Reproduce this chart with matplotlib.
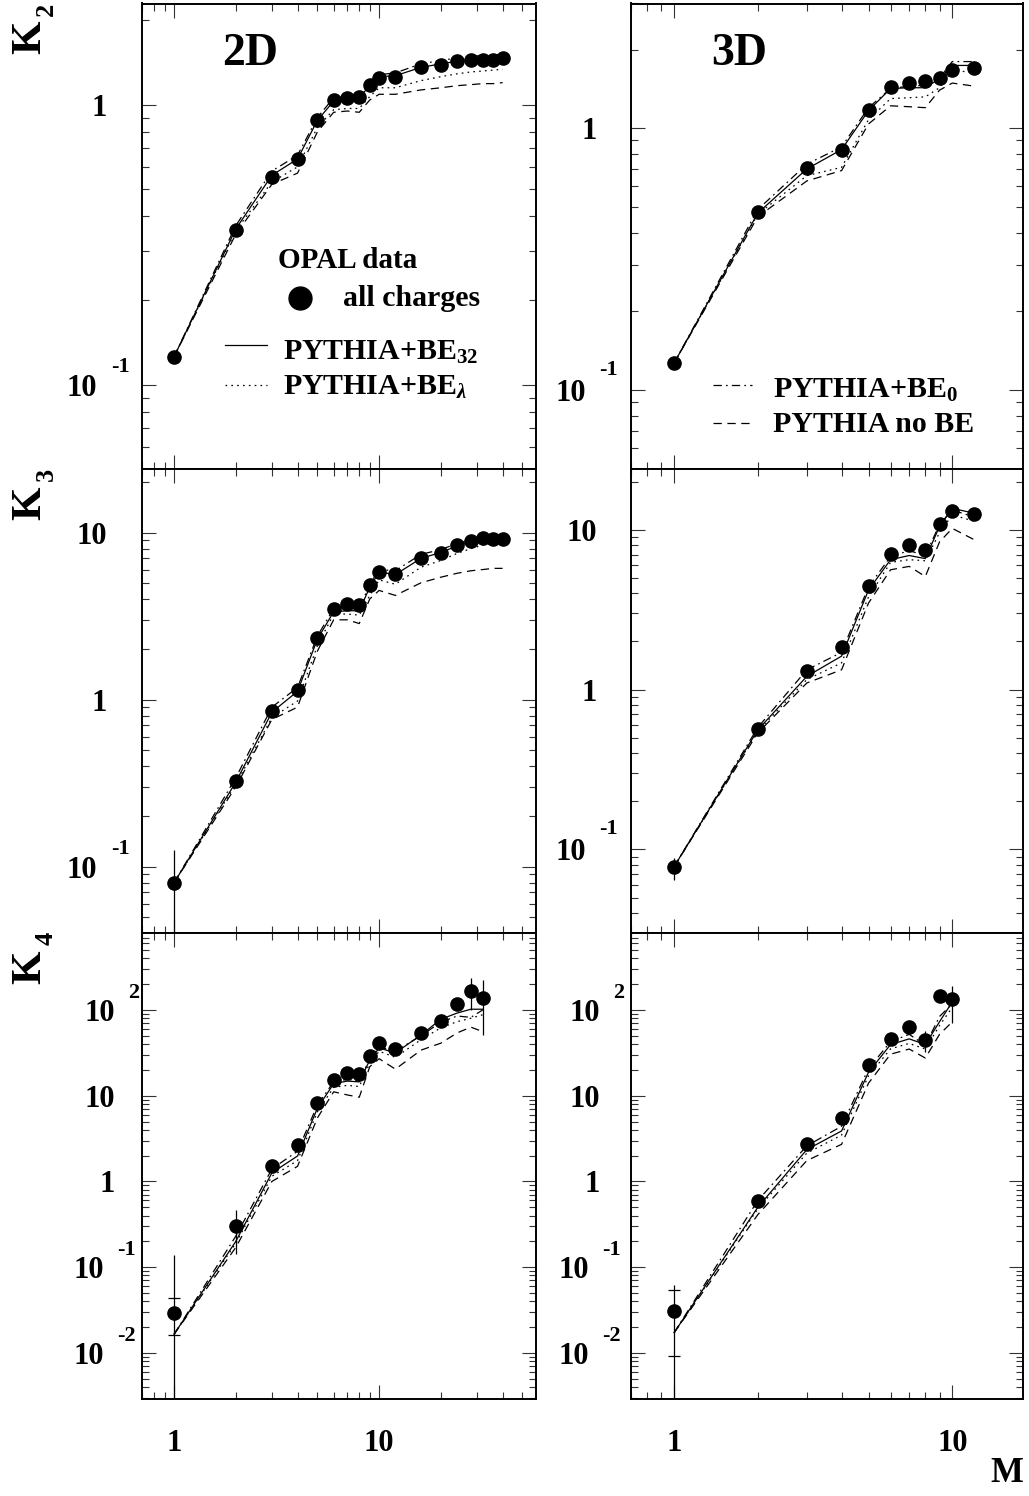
import matplotlib
matplotlib.use('Agg')
import matplotlib.pyplot as plt
from matplotlib.lines import Line2D
from matplotlib.ticker import LogLocator, NullFormatter
import numpy as np

plt.rcParams['font.family'] = ['Liberation Serif', 'DejaVu Serif']
plt.rcParams['font.weight'] = 'bold'
plt.rcParams['mathtext.fontset'] = 'custom'
plt.rcParams['mathtext.rm'] = 'Liberation Serif:bold'
plt.rcParams['mathtext.bf'] = 'Liberation Serif:bold'
plt.rcParams['mathtext.it'] = 'Liberation Serif:bold:italic'
plt.rcParams['lines.scale_dashes'] = False

# ---------------- data ----------------
M_2d = [1, 2, 3, 4, 5, 6, 7, 8, 9, 10, 12, 16, 20, 24, 28, 32, 36, 40]
M_2d_k4 = [1, 2, 3, 4, 5, 6, 7, 8, 9, 10, 12, 16, 20, 24, 28, 32]
M_3d = [1, 2, 3, 4, 5, 6, 7, 8, 9, 10, 12]
M_3d_k4 = [1, 2, 3, 4, 5, 6, 7, 8, 9, 10]

# K2, 2D
k2_2d_data = [0.126, 0.358, 0.552, 0.639, 0.88, 1.04, 1.06, 1.07, 1.18, 1.25, 1.26, 1.36, 1.39, 1.43, 1.44, 1.45, 1.45, 1.47]
k2_2d_be32 = [0.126, 0.36, 0.56, 0.64, 0.88, 1.03, 1.05, 1.06, 1.17, 1.26, 1.27, 1.36, 1.40, 1.43, 1.45, 1.46, 1.47, 1.47]
k2_2d_be0 = [0.126, 0.37, 0.58, 0.66, 0.90, 1.06, 1.07, 1.08, 1.20, 1.28, 1.30, 1.40, 1.44, 1.47, 1.49, 1.50, 1.51, 1.51]
k2_2d_belam = [0.126, 0.355, 0.53, 0.60, 0.83, 0.96, 0.97, 0.97, 1.07, 1.15, 1.15, 1.22, 1.26, 1.29, 1.31, 1.32, 1.33, 1.34]
k2_2d_nobe = [0.126, 0.345, 0.52, 0.57, 0.80, 0.94, 0.95, 0.94, 1.04, 1.09, 1.09, 1.13, 1.15, 1.17, 1.18, 1.19, 1.19, 1.20]

# K2, 3D
k2_3d_data = [0.127, 0.479, 0.703, 0.826, 1.18, 1.435, 1.486, 1.517, 1.553, 1.67, 1.695]
k2_3d_be32 = [0.127, 0.475, 0.70, 0.83, 1.17, 1.42, 1.43, 1.43, 1.55, 1.74, 1.74]
k2_3d_be0 = [0.127, 0.49, 0.73, 0.85, 1.20, 1.42, 1.45, 1.46, 1.56, 1.80, 1.80]
k2_3d_belam = [0.127, 0.47, 0.66, 0.71, 1.08, 1.30, 1.31, 1.32, 1.43, 1.66, 1.64]
k2_3d_nobe = [0.127, 0.46, 0.63, 0.69, 1.04, 1.22, 1.21, 1.20, 1.40, 1.49, 1.45]

# K3, 2D
k3_2d_data = [0.080, 0.326, 0.852, 1.147, 2.33, 3.49, 3.74, 3.69, 4.85, 5.83, 5.64, 7.06, 7.57, 8.40, 8.91, 9.21, 9.12, 9.12]
k3_2d_be32 = [0.08, 0.32, 0.84, 1.12, 2.3, 3.35, 3.4, 3.4, 4.7, 5.8, 5.6, 7.0, 7.6, 8.3, 8.8, 9.1, 9.1, 9.1]
k3_2d_be0 = [0.08, 0.34, 0.9, 1.18, 2.4, 3.5, 3.55, 3.5, 4.9, 6.0, 5.9, 7.4, 7.9, 8.6, 9.0, 9.2, 9.2, 9.2]
k3_2d_belam = [0.08, 0.31, 0.78, 0.98, 2.1, 3.25, 3.25, 3.2, 4.2, 5.2, 4.9, 6.2, 6.8, 7.5, 8.0, 8.4, 8.6, 8.7]
k3_2d_nobe = [0.08, 0.30, 0.76, 0.90, 1.95, 3.0, 3.0, 2.85, 4.0, 4.5, 4.2, 5.0, 5.4, 5.7, 5.9, 6.0, 6.1, 6.1]

# K3, 3D
k3_3d_data = [0.078, 0.568, 1.30, 1.84, 4.42, 7.04, 8.06, 7.43, 10.8, 13.1, 12.5]
k3_3d_be32 = [0.078, 0.56, 1.21, 1.62, 4.2, 6.5, 6.9, 6.6, 10.5, 13.6, 12.7]
k3_3d_be0 = [0.078, 0.58, 1.33, 1.71, 4.4, 6.8, 7.4, 6.9, 10.8, 13.3, 12.0]
k3_3d_belam = [0.078, 0.55, 1.155, 1.47, 3.8, 6.25, 6.5, 6.4, 9.6, 12.4, 11.3]
k3_3d_nobe = [0.078, 0.536, 1.10, 1.33, 3.48, 5.62, 5.9, 5.1, 8.4, 10.2, 8.66]

# K4, 2D
k4_2d_data = [0.0291, 0.303, 1.50, 2.67, 8.15, 15.2, 18.2, 17.8, 29.0, 41.6, 34.7, 54.3, 75, 117.5, 167, 137]
k4_2d_be32 = [0.0165, 0.20, 1.26, 1.98, 7.15, 13.8, 14.8, 14.5, 26, 36, 31.6, 51, 78, 92, 102, 102]
k4_2d_be0 = [0.0165, 0.23, 1.40, 2.25, 7.8, 14.5, 15.5, 14.8, 27, 37, 33, 50, 72, 85, 82, 100]
k4_2d_belam = [0.0165, 0.19, 1.15, 1.75, 6.5, 12.5, 13.2, 12.8, 24, 33, 28, 45, 62, 73, 80, 88]
k4_2d_nobe = [0.0165, 0.17, 1.0, 1.5, 5.5, 11.1, 10.2, 9.6, 21.8, 27, 20.4, 34, 41, 54, 63, 56]

# K4, 3D
k4_3d_data = [0.031, 0.593, 2.76, 5.43, 22.8, 46, 64, 44.8, 147, 134]
k4_3d_be32 = [0.0172, 0.50, 2.35, 3.88, 18.8, 39.5, 46, 39.5, 73, 124]
k4_3d_be0 = [0.0172, 0.60, 2.6, 4.4, 20.7, 42.7, 52, 38.7, 84, 118]
k4_3d_belam = [0.0172, 0.48, 2.14, 3.47, 17.1, 35.2, 40.7, 35, 66, 107]
k4_3d_nobe = [0.0172, 0.41, 1.75, 2.71, 14, 30.5, 35, 27.5, 52, 72.7]

# error bars: x, low, high ; caps: x, low cap, high cap
err_k3_2d = ([1], [1e-5], [0.125])
err_k3_3d = ([1], [0.064], [0.089])
err_k4_2d = ([1, 2, 28, 32], [1e-5, 0.143, 100, 51], [0.139, 0.464, 234, 224])
cap_k4_2d = ([1], [0.0161], [0.0435])
err_k4_3d = ([1, 8, 10], [1e-5, 32, 70.6], [0.062, 57, 191])
cap_k4_3d = ([1], [0.0091], [0.0537])

# ---------------- figure ----------------
W, H = 1029, 1496
fig = plt.figure(figsize=(W / 100, H / 100), dpi=100)


def fx(x):
    return x / W


def fy(y):
    return 1 - y / H


def px_axes(x0, x1, ytop, ybot):
    return fig.add_axes([x0 / W, 1 - ybot / H, (x1 - x0) / W, (ybot - ytop) / H])


cols = [(142.3, 535.7), (631.0, 1023.3)]
rows = [(3.5, 469.0), (469.0, 933.0), (933.0, 1399.0)]

DASHDOT = (0, (6, 3, 1.2, 3))
DOTTED = (0, (1.2, 3))
DASHED = (0, (6, 4))
LW = 0.9

panels = [
    (0, 0, M_2d, k2_2d_data, k2_2d_be32, k2_2d_be0, k2_2d_belam, k2_2d_nobe,
     (0.7, 58), (0.05, 2.3), None, None,
     [(1, '1', None), (0.1, '10', '-1')], (-35.5, -45.5, 14.5, 21)),
    (0, 1, M_3d, k2_3d_data, k2_3d_be32, k2_3d_be0, k2_3d_belam, k2_3d_nobe,
     (0.7, 18), (0.05, 3.0), None, None,
     [(1, '1', None), (0.1, '10', '-1')], (-34.3, -45.3, 13.3, 23)),
    (1, 0, M_2d, k3_2d_data, k3_2d_be32, k3_2d_be0, k3_2d_belam, k3_2d_nobe,
     (0.7, 58), (0.04, 24), err_k3_2d, None,
     [(10, '10', None), (1, '1', None), (0.1, '10', '-1')], (-35, -45.5, 14.5, 21)),
    (1, 1, M_3d, k3_3d_data, k3_3d_be32, k3_3d_be0, k3_3d_belam, k3_3d_nobe,
     (0.7, 18), (0.03, 24), err_k3_3d, None,
     [(10, '10', None), (1, '1', None), (0.1, '10', '-1')], (-34, -45.3, 13.3, 23)),
    (2, 0, M_2d_k4, k4_2d_data, k4_2d_be32, k4_2d_be0, k4_2d_belam, k4_2d_nobe,
     (0.7, 58), (0.0029, 790), err_k4_2d, cap_k4_2d,
     [(100, '10', '2'), (10, '10', None), (1, '1', None), (0.1, '10', '-1'), (0.01, '10', '-2')],
     (-27, -38, 13, 20)),
    (2, 1, M_3d_k4, k4_3d_data, k4_3d_be32, k4_3d_be0, k4_3d_belam, k4_3d_nobe,
     (0.7, 18), (0.0029, 790), err_k4_3d, cap_k4_3d,
     [(100, '10', '2'), (10, '10', None), (1, '1', None), (0.1, '10', '-1'), (0.01, '10', '-2')],
     (-31, -42, 13, 20)),
]

FS = 22
FSE = 16

for (r, c, M, dat, b32, b0, blam, nobe, xlim, ylim, err, cap, labels, offs) in panels:
    x0, x1 = cols[c]
    yt, yb = rows[r]
    ax = px_axes(x0, x1, yt, yb)
    ax.set_xscale('log')
    ax.set_yscale('log')
    ax.set_xlim(*xlim)
    ax.set_ylim(*ylim)
    for axis in (ax.xaxis, ax.yaxis):
        axis.set_major_locator(LogLocator(base=10, numticks=30))
        axis.set_minor_locator(LogLocator(base=10, subs=np.arange(2, 10), numticks=30))
        axis.set_major_formatter(NullFormatter())
        axis.set_minor_formatter(NullFormatter())
    ax.tick_params(which='both', direction='in', top=True, right=True,
                   labelleft=False, labelbottom=False, color='#333333')
    ax.tick_params(which='major', length=10, width=0.8)
    ax.tick_params(which='minor', length=5, width=0.8)
    for s in ax.spines.values():
        s.set_linewidth(1.4)

    ax.plot(M, b32, color='k', lw=LW, ls='-')
    ax.plot(M, b0, color='k', lw=LW, ls=DASHDOT)
    ax.plot(M, blam, color='k', lw=LW, ls=DOTTED)
    ax.plot(M, nobe, color='k', lw=LW, ls=DASHED)
    if err is not None:
        ax.vlines(err[0], err[1], err[2], colors='k', lw=LW)
    if cap is not None:
        ax.plot(cap[0], cap[1], ls='none', marker='_', ms=9, mew=LW, color='k')
        ax.plot(cap[0], cap[2], ls='none', marker='_', ms=9, mew=LW, color='k')
    ax.plot(M, dat, ls='none', marker='o', ms=9.5, color='k', zorder=5)

    plain_dx, ten_dx, gap, edy = offs
    for val, main, exp in labels:
        if exp is None:
            ax.annotate(main, xy=(0, val), xycoords=('axes fraction', 'data'),
                        xytext=(plain_dx, -11), textcoords='offset pixels',
                        ha='right', va='baseline', fontsize=FS)
        else:
            tdx = ten_dx if exp.startswith('-') else plain_dx
            ax.annotate(main, xy=(0, val), xycoords=('axes fraction', 'data'),
                        xytext=(tdx, -11), textcoords='offset pixels',
                        ha='right', va='baseline', fontsize=FS)
            ax.annotate(exp, xy=(0, val), xycoords=('axes fraction', 'data'),
                        xytext=(tdx + gap, edy - 8), textcoords='offset pixels',
                        ha='left', va='baseline', fontsize=FSE)
    if r == 2:
        for val, txt in [(1, '1'), (10, '10')]:
            ax.annotate(txt, xy=(val, 0), xycoords=('data', 'axes fraction'),
                        xytext=(0, -52), textcoords='offset pixels',
                        ha='center', va='baseline', fontsize=FS)

# K labels
for (yt, yb), sub in zip(rows, ['2', '3', '4']):
    fig.text(fx(49), fy(yt + 17), 'K', rotation=90, ha='right', va='top', fontsize=31)
    fig.text(fx(58), fy(max(yt - 1, 0.5)), sub, rotation=90, ha='right', va='top', fontsize=19)

# panel titles
fig.text(fx(250), fy(65), '2D', ha='center', va='baseline', fontsize=33)
fig.text(fx(739), fy(65), '3D', ha='center', va='baseline', fontsize=33)

# M label
fig.text(fx(1023.3), fy(1482), 'M', ha='right', va='baseline', fontsize=25)

# legends (left)
fig.text(fx(278), fy(268), 'OPAL data', ha='left', va='baseline', fontsize=21)
fig.add_artist(Line2D([fx(300)], [fy(298)], marker='o', ms=16.5, color='k', ls='none',
                      transform=fig.transFigure))
fig.text(fx(343), fy(306), 'all charges', ha='left', va='baseline', fontsize=21.5)
fig.add_artist(Line2D([fx(225), fx(267)], [fy(345), fy(345)], color='k', lw=LW, ls='-',
                      transform=fig.transFigure))
fig.text(fx(283), fy(360), r'PYTHIA+BE$_{32}$', ha='left', va='baseline', fontsize=21.5)
fig.add_artist(Line2D([fx(225), fx(267)], [fy(385), fy(385)], color='k', lw=LW, ls=DOTTED,
                      transform=fig.transFigure))
fig.text(fx(283), fy(395), r'PYTHIA+BE$_{\lambda}$', ha='left', va='baseline', fontsize=21.5)

# legends (right)
fig.add_artist(Line2D([fx(713), fx(752)], [fy(385), fy(385)], color='k', lw=LW, ls=DASHDOT,
                      transform=fig.transFigure))
fig.text(fx(773), fy(398), r'PYTHIA+BE$_{0}$', ha='left', va='baseline', fontsize=21.5)
fig.add_artist(Line2D([fx(713), fx(752)], [fy(423), fy(423)], color='k', lw=LW, ls=DASHED,
                      transform=fig.transFigure))
fig.text(fx(773), fy(432), 'PYTHIA no BE', ha='left', va='baseline', fontsize=21.5)

fig.savefig('out.png', dpi=100)
